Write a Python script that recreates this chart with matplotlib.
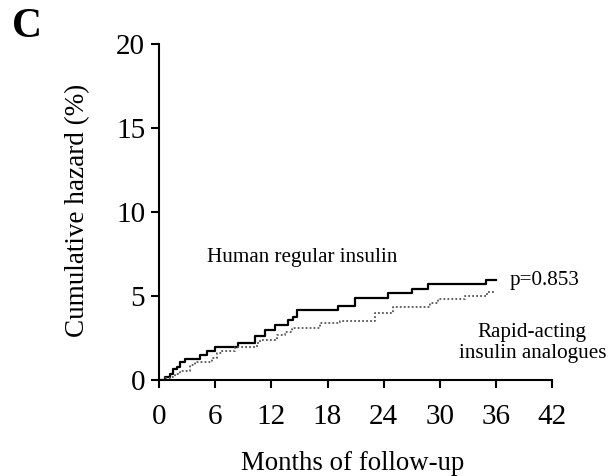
import matplotlib
matplotlib.use("Agg")
import matplotlib.pyplot as plt

plt.rcParams['font.family'] = ['Liberation Serif', 'DejaVu Serif']

# Human regular insulin (solid)
human_t = [0, 0.6, 1.2, 1.5, 1.9, 2.2, 2.8, 4.4, 5.1, 6.0, 8.4, 10.3, 11.3, 12.4,
           13.8, 14.3, 14.7, 19.1, 20.9, 24.5, 27.0, 28.7, 34.9, 36.0]
human_y = [0, 0.18, 0.36, 0.65, 0.8, 1.07, 1.25, 1.5, 1.73, 1.96, 2.2, 2.6, 3.0, 3.3,
           3.55, 3.75, 4.15, 4.4, 4.88, 5.18, 5.42, 5.7, 5.95, 5.95]

# Rapid-acting insulin analogues (dotted)
rapid_t = [0, 0.6, 1.2, 1.7, 2.2, 3.3, 3.8, 5.7, 6.2, 6.7, 8.1, 10.5, 10.8, 12.6,
           13.5, 14.2, 17.2, 19.3, 23.1, 25.0, 29.0, 29.8, 32.7, 35.1, 36.0]
rapid_y = [0, 0.1, 0.2, 0.36, 0.54, 0.9, 1.07, 1.3, 1.6, 1.73, 1.96, 2.2, 2.4, 2.68,
           2.86, 3.1, 3.4, 3.5, 3.98, 4.35, 4.58, 4.8, 4.97, 5.25, 5.25]

xticks = [0, 6, 12, 18, 24, 30, 36, 42]
yticks = [0, 5, 10, 15, 20]

fig = plt.figure(figsize=(6.12, 4.76), dpi=100)
ax = fig.add_axes([0.26, 0.2017, 0.642, 0.706])

ax.plot(human_t, human_y, drawstyle='steps-post', color='black', lw=1.6)
ax.plot(rapid_t, rapid_y, drawstyle='steps-post', color='#555555', lw=1.3,
        linestyle=(0, (1, 1.2)))

ax.set_xlim(0, 42)
ax.set_ylim(0, 20)
ax.set_xticks(xticks)
ax.set_yticks(yticks)
ax.spines['top'].set_visible(False)
ax.spines['right'].set_visible(False)
for s in ['left', 'bottom']:
    ax.spines[s].set_linewidth(1.5)
ax.tick_params(direction='out', length=6, width=1.5, labelsize=21)
ax.tick_params(axis='y', pad=4)
ax.tick_params(axis='x', pad=11)

fig.text(78 / 612, 1 - 210 / 476, 'Cumulative hazard (%)', fontsize=19.5,
         rotation=90, ha='center', va='center')
fig.text(353 / 612, 1 - 470 / 476, 'Months of follow-up', fontsize=19.3,
         ha='center', va='baseline')

ax.text(5.1, 7.3, 'Human regular insulin', fontsize=15.2, va='center', ha='left')
ax.text(37.5, 5.9, 'p=0.853', fontsize=15.2, va='center', ha='left', clip_on=False)
ax.text(39.9, 2.8, 'Rapid-acting', fontsize=15.2, va='center', ha='center', clip_on=False)
ax.text(39.9, 1.6, 'insulin analogues', fontsize=15.2, va='center', ha='center', clip_on=False)

fig.text(0.02, 1 - 27 / 476, 'C', fontsize=30, fontweight='bold', va='center', ha='left')

fig.savefig('out.png', dpi=100)
